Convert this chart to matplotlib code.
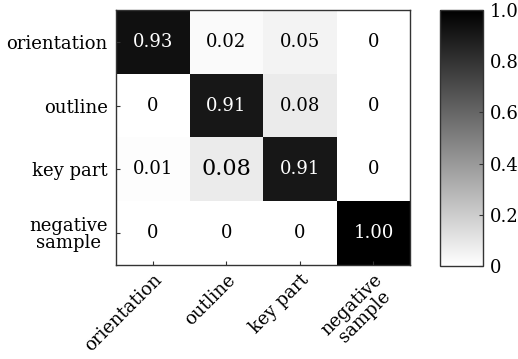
import numpy as np
import matplotlib
matplotlib.use('Agg')
import matplotlib.pyplot as plt

plt.rcParams['font.family'] = ['DejaVu Serif']

classes = ['orientation', 'outline', 'key part', 'negative\nsample']
values = np.array([
    [0.93, 0.02, 0.05, 0.00],
    [0.00, 0.91, 0.08, 0.00],
    [0.01, 0.08, 0.91, 0.00],
    [0.00, 0.00, 0.00, 1.00],
])
cell_text = [
    ['0.93', '0.02', '0.05', '0'],
    ['0', '0.91', '0.08', '0'],
    ['0.01', '0.08', '0.91', '0'],
    ['0', '0', '0', '1.00'],
]
cbar_ticks = [0, 0.2, 0.4, 0.6, 0.8, 1.0]
cbar_labels = ['0', '0.2', '0.4', '0.6', '0.8', '1.0']

fig = plt.figure(figsize=(5.18, 3.59), dpi=100)
ax = fig.add_axes([0.224, 0.262, 0.568, 0.710])
cax = fig.add_axes([0.849, 0.259, 0.083, 0.713])

im = ax.imshow(values, cmap='gray_r', vmin=0, vmax=1, aspect='auto')

# cell annotations; the reference prints one 0.08 in a larger size
for i in range(len(classes)):
    for j in range(len(classes)):
        color = 'white' if values[i, j] > 0.5 else 'black'
        size = 16 if (i, j) == (2, 1) else 13
        ax.text(j, i, cell_text[i][j], ha='center', va='center',
                color=color, fontsize=size)

ax.set_xticks(range(len(classes)))
ax.set_yticks(range(len(classes)))
ax.set_xticklabels(classes, rotation=45, ha='right', rotation_mode='anchor',
                   fontsize=13, linespacing=0.95, multialignment='center')
ax.set_yticklabels(classes, fontsize=13, linespacing=0.95, ha='right',
                   multialignment='center')
ax.tick_params(direction='in', length=3, width=0.8, color='#333333')
ax.tick_params(axis='y', pad=6)
ax.tick_params(axis='x', pad=4)
for s in ax.spines.values():
    s.set_linewidth(1.0)
    s.set_color('#333333')

cb = fig.colorbar(im, cax=cax, ticks=cbar_ticks)
cb.ax.set_yticklabels(cbar_labels, fontsize=13)
cb.ax.tick_params(direction='in', length=3, width=0.8, color='#333333', pad=5)
cb.outline.set_linewidth(1.0)
cb.outline.set_edgecolor('#333333')

fig.savefig('out.png', dpi=100)
